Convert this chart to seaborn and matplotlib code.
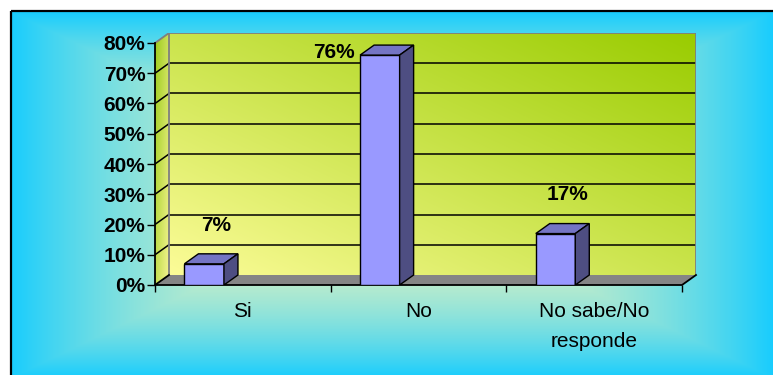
import numpy as np
import matplotlib
matplotlib.use("Agg")
import matplotlib.pyplot as plt
from matplotlib.patches import Polygon
from matplotlib.colors import to_rgb
import seaborn as sns

# Survey answers and their shares (%)
categories = ["Si", "No", "No sabe/No\nresponde"]
percentages = [7, 76, 17]
y_ticks = [0, 10, 20, 30, 40, 50, 60, 70, 80]
y_tick_labels = [f"{t}%" for t in y_ticks]

plt.rcParams["font.family"] = ["Liberation Sans", "DejaVu Sans"]

W, H, DPI = 773, 375, 100
fig = plt.figure(figsize=(W / DPI, H / DPI), dpi=DPI, facecolor="white")


def mix(c_a, c_b, t):
    a, b = np.array(to_rgb(c_a)), np.array(to_rgb(c_b))
    return a + (b - a) * t[..., None]


# ---- chart area: framed, shaded from the centre outwards ----
bg = fig.add_axes([0, 0, 1, 1], zorder=0)
bg.set_xlim(0, W)
bg.set_ylim(H, 0)
bg.axis("off")
frame_x0, frame_y0 = 11, 11
gx, gy = np.meshgrid(np.arange(frame_x0, W) + 0.5, np.arange(frame_y0, H) + 0.5)
cx, cy, hw, hh = 392, 195, 385, 185
shade = np.clip(np.maximum(np.abs(gx - cx) / hw, np.abs(gy - cy) / hh), 0, 1) ** 2
bg.imshow(mix("#E8F4C0", "#14CCFF", shade), extent=(frame_x0, W, H, frame_y0),
          aspect="auto", interpolation="bilinear")
bg.plot([frame_x0, frame_x0], [frame_y0, H], color="black", lw=1.6, solid_capstyle="butt")
bg.plot([frame_x0, W], [frame_y0, frame_y0], color="black", lw=1.6, solid_capstyle="butt")

# ---- plot area (front plane: x 155..682 px, y 285..43 px) ----
px_per_cat = 527 / 3
px_per_pct = 242 / 80
dx = 14 / px_per_cat      # depth offset in category units
dy = 10 / px_per_pct      # depth offset in percent units
ymax = 80
n = len(categories)

ax = fig.add_axes([155 / W, 1 - 285 / H, (527 + 14) / W, (242 + 10) / H], zorder=1)
ax.patch.set_visible(False)

# back wall with diagonal gradient
nx, ny = 300, 150
u, v = np.meshgrid(np.linspace(0, 1, nx), np.linspace(0, 1, ny))
ax.imshow(mix("#FCFC98", "#99CC00", (u + v) / 2), origin="lower", aspect="auto",
          extent=(-0.5 + dx, n - 0.5 + dx, dy, ymax + dy), zorder=0.5,
          interpolation="bilinear")

# left side wall
side_pts = [(-0.5, 0), (-0.5 + dx, dy), (-0.5 + dx, ymax + dy), (-0.5, ymax)]
side_poly = Polygon(side_pts, closed=True, facecolor="none", edgecolor="none")
ax.add_patch(side_poly)
sw = ax.imshow(mix("#F4F490", "#9CCB1A", (0.55 * (1 - u) + 0.45 * v)), origin="lower",
               aspect="auto", extent=(-0.5, -0.5 + dx, 0, ymax + dy), zorder=0.5,
               interpolation="bilinear")
sw.set_clip_path(side_poly)

# gridlines on back wall and side wall
for t in y_ticks[1:-1]:
    ax.plot([-0.5 + dx, n - 0.5 + dx], [t + dy, t + dy], color="black", lw=1.1, zorder=1)
    ax.plot([-0.5, -0.5 + dx], [t, t + dy], color="black", lw=1.1, zorder=1)

# wall outlines
wall_grey = "#7F7F7F"
ax.plot([-0.5 + dx, -0.5 + dx, n - 0.5 + dx, n - 0.5 + dx],
        [dy, ymax + dy, ymax + dy, dy], color=wall_grey, lw=1.3, zorder=1.2)
ax.plot([-0.5, -0.5 + dx], [ymax, ymax + dy], color=wall_grey, lw=1.3, zorder=1.2)

# floor
floor = Polygon([(-0.5, 0), (n - 0.5, 0), (n - 0.5 + dx, dy), (-0.5 + dx, dy)],
                closed=True, facecolor="#858585", edgecolor="none", zorder=1.5)
ax.add_patch(floor)
ax.plot([-0.5 + dx, -0.5, n - 0.5, n - 0.5 + dx], [dy, 0, 0, dy],
        color="black", lw=1.3, zorder=2, clip_on=False)
ax.plot([-0.5, -0.5], [0, ymax], color="black", lw=1.3, zorder=2, clip_on=False)

# bars (front faces)
sns.barplot(x=categories, y=percentages, width=0.225, color="#9999FF", saturation=1,
            edgecolor="black", linewidth=1.0, errorbar=None, ax=ax, zorder=3)
bars = list(ax.containers[0])
for bar in bars:
    bar.set_x(bar.get_x() - 0.22)

# bar tops and sides
for bar in bars:
    xl, w, h = bar.get_x(), bar.get_width(), bar.get_height()
    top = Polygon([(xl, h), (xl + w, h), (xl + w + dx, h + dy), (xl + dx, h + dy)],
                  closed=True, facecolor="#7474C4", edgecolor="black", lw=1.0, zorder=3)
    side = Polygon([(xl + w, 0), (xl + w + dx, dy), (xl + w + dx, h + dy), (xl + w, h)],
                   closed=True, facecolor="#4E4E82", edgecolor="black", lw=1.0, zorder=3)
    ax.add_patch(top)
    ax.add_patch(side)

# value labels
for bar, val in zip(bars, percentages):
    xl, w = bar.get_x(), bar.get_width()
    if val + 13 > ymax:
        ax.text(xl - 0.03, val + 1, f"{val}%", ha="right", va="center",
                fontsize=15, fontweight="bold", zorder=4)
    else:
        ax.text(xl + w / 2 + 0.07, val + 12.8, f"{val}%", ha="center", va="center",
                fontsize=15, fontweight="bold", zorder=4)

# axes limits, ticks and labels
ax.set_xlim(-0.5, n - 0.5 + dx)
ax.set_ylim(0, ymax + dy)
for s in ax.spines.values():
    s.set_visible(False)
ax.grid(False)
ax.set_xlabel("")
ax.set_ylabel("")

ax.set_yticks(y_ticks, y_tick_labels)
ax.tick_params(axis="y", left=True, length=6, width=1, pad=1, labelsize=15, colors="black")
for lbl in ax.get_yticklabels():
    lbl.set_fontweight("bold")

ax.set_xticks(range(n), categories)
ax.set_xticks([i - 0.5 for i in range(n + 1)], minor=True)
ax.tick_params(axis="x", which="major", bottom=True, length=0, pad=12, labelsize=15)
ax.tick_params(axis="x", which="minor", bottom=True, length=5, width=1)
for lbl in ax.get_xticklabels():
    lbl.set_linespacing(1.75)

fig.savefig("out.png", dpi=DPI)
